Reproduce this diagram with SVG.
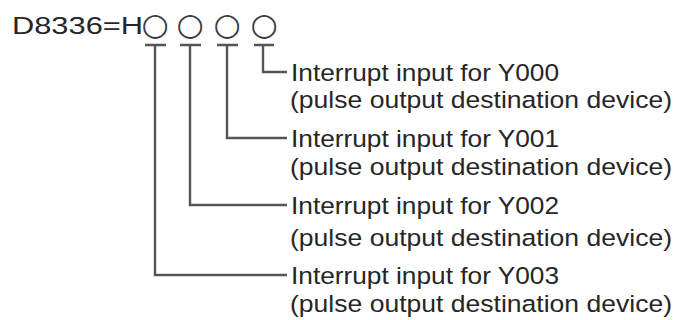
<svg xmlns="http://www.w3.org/2000/svg" width="675" height="320" viewBox="0 0 675 320">
<style>
.t{font-family:"Liberation Sans",Arial,sans-serif;font-size:24.5px;fill:#262626}
.c{font-family:"DejaVu Sans",sans-serif;font-size:31px;fill:#3a3a3a;text-anchor:middle}
.ln{fill:none;stroke:#555555;stroke-width:2.4}
</style>
<rect width="675" height="320" fill="#ffffff"/>
<g id="title">
<text class="t" x="12" y="34" font-size="27" textLength="131" lengthAdjust="spacingAndGlyphs">D8336=H</text>
<text class="c" y="35"><tspan x="155">○</tspan><tspan x="190">○</tspan><tspan x="227">○</tspan><tspan x="264">○</tspan></text>
</g>
<g id="connectors">
<path class="ln" d="M145 45H166M155 45V275H287"/>
<path class="ln" d="M180 45H201M190 45V205H287"/>
<path class="ln" d="M217 45H238M227 45V138H287"/>
<path class="ln" d="M254 45H274M263 45V72H287"/>
</g>
<g id="y000">
<text class="t" x="291" y="81" textLength="268" lengthAdjust="spacingAndGlyphs">Interrupt input for Y000</text>
<text class="t" x="290" y="108" textLength="382" lengthAdjust="spacingAndGlyphs">(pulse output destination device)</text>
</g>
<g id="y001">
<text class="t" x="291" y="147" textLength="268" lengthAdjust="spacingAndGlyphs">Interrupt input for Y001</text>
<text class="t" x="290" y="175" textLength="382" lengthAdjust="spacingAndGlyphs">(pulse output destination device)</text>
</g>
<g id="y002">
<text class="t" x="291" y="214" textLength="268" lengthAdjust="spacingAndGlyphs">Interrupt input for Y002</text>
<text class="t" x="290" y="246" textLength="382" lengthAdjust="spacingAndGlyphs">(pulse output destination device)</text>
</g>
<g id="y003">
<text class="t" x="291" y="284" textLength="268" lengthAdjust="spacingAndGlyphs">Interrupt input for Y003</text>
<text class="t" x="290" y="312" textLength="382" lengthAdjust="spacingAndGlyphs">(pulse output destination device)</text>
</g>
</svg>
